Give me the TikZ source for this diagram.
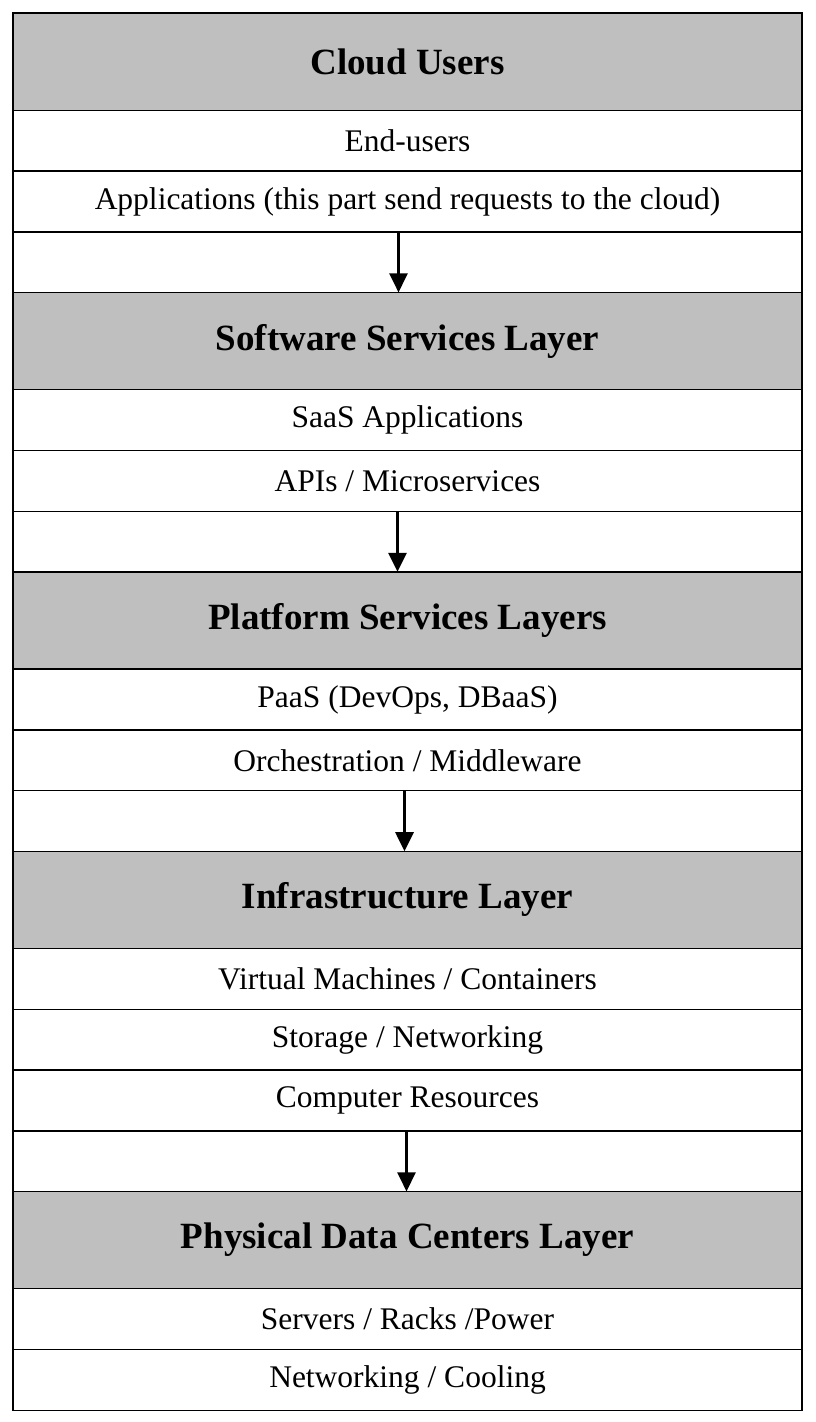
\documentclass[tikz,border=0pt]{standalone}
\usepackage{fontspec}
\setmainfont{Liberation Serif}
\usetikzlibrary{positioning,arrows.meta}
\definecolor{layergray}{RGB}{191,191,191}

\tikzset{
  layerhead/.style={draw, line width=1.4pt, fill=layergray, minimum width=789pt,
    minimum height=97.3pt, inner sep=0pt, outer sep=0pt,
    font=\fontsize{37}{42}\selectfont\bfseries},
  itemrow/.style={draw, line width=1.4pt, fill=white, minimum width=789pt,
    minimum height=60.8pt, inner sep=0pt, outer sep=0pt,
    font=\fontsize{31.5}{36}\selectfont},
  gaprow/.style={draw, line width=1.4pt, fill=white, minimum width=789pt,
    minimum height=60.5pt, inner sep=0pt, outer sep=0pt},
  flow/.style={-{Triangle[length=19pt,width=18pt]}, line width=2.8pt}
}

\begin{document}
\begin{tikzpicture}[x=1pt,y=1pt]
\useasboundingbox (0,0) rectangle (815,-1422);

% Cloud users
\node[layerhead, anchor=north west] (cu) at (13,-13) {Cloud Users};
\node[itemrow, below=0pt of cu] (endusers) {End-users};
\node[itemrow, below=0pt of endusers] (apps) {Applications (this part send requests to the cloud)};
\node[gaprow, below=0pt of apps] (gapa) {};

% Software services
\node[layerhead, below=0pt of gapa] (ssl) {Software Services Layer};
\node[itemrow, below=0pt of ssl] (saas) {SaaS Applications};
\node[itemrow, below=0pt of saas] (apis) {APIs / Microservices};
\node[gaprow, below=0pt of apis] (gapb) {};

% Platform services
\node[layerhead, below=0pt of gapb] (psl) {Platform Services Layers};
\node[itemrow, below=0pt of psl] (paas) {PaaS (DevOps, DBaaS)};
\node[itemrow, below=0pt of paas] (orch) {Orchestration / Middleware};
\node[gaprow, below=0pt of orch] (gapc) {};

% Infrastructure
\node[layerhead, below=0pt of gapc] (infra) {Infrastructure Layer};
\node[itemrow, below=0pt of infra] (vms) {Virtual Machines / Containers};
\node[itemrow, below=0pt of vms] (storage) {Storage / Networking};
\node[itemrow, below=0pt of storage] (compres) {Computer Resources};
\node[gaprow, below=0pt of compres] (gapd) {};

% Physical data centers
\node[layerhead, below=0pt of gapd] (pdc) {Physical Data Centers Layer};
\node[itemrow, below=0pt of pdc] (servers) {Servers / Racks /Power};
\node[itemrow, below=0pt of servers] (netcool) {Networking / Cooling};

% Arrows between layers
\draw[flow] ([xshift=-9pt]apps.south) -- ([xshift=-9pt]ssl.north);
\draw[flow] ([xshift=-10pt]apis.south) -- ([xshift=-10pt]psl.north);
\draw[flow] ([xshift=-3pt]orch.south) -- ([xshift=-3pt]infra.north);
\draw[flow] ([xshift=-1pt]compres.south) -- ([xshift=-1pt]pdc.north);
\end{tikzpicture}
\end{document}
